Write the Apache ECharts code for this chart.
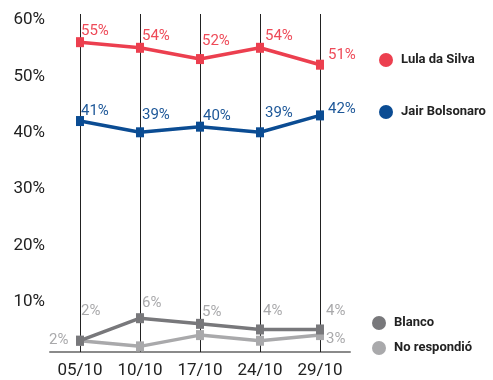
<!DOCTYPE html>
<html>
<head>
<meta charset="utf-8">
<script src="https://cdn.jsdelivr.net/npm/echarts@6/dist/echarts.min.js"></script>
<style>
  html, body { margin: 0; padding: 0; background: #fff; }
  #chart { width: 493px; height: 380px; }
</style>
</head>
<body>
<div id="chart"></div>
<script>
// Poll dates
const dates = ['05/10', '10/10', '17/10', '24/10', '29/10'];

// Voting intention (%) per candidate / answer
const lula = [55, 54, 52, 54, 51];
const bolsonaro = [41, 39, 40, 39, 42];
const blanco = [2, 6, 5, 4, 4];
const noRespondio = [2, 1, 3, 2, 3];

// Y axis ticks
const yTicks = [10, 20, 30, 40, 50, 60];

const RED = '#ec3f4f';
const BLUE = '#0b4c93';
const DARK_GREY = '#78787b';
const LIGHT_GREY = '#a9a9ab';

// Hand-placed label nudges (dx, dy from the marker centre)
const nudges = {
  lula: [[1, -11], [2, -12], [2, -18], [5, -12], [8, -9]],
  bolsonaro: [[1, -10], [2, -17], [3, -10], [5, -19], [8, -6]],
  blanco: [[1, -29], [2, -15], [2, -12], [3, -18], [6, -18]],
  noRespondio: [[-31, 0], null, null, null, [6, 4]]
};

function points(values, key, color) {
  return values.map((v, i) => {
    const n = nudges[key][i];
    if (!n) return { value: v, label: { show: false } };
    return {
      value: v,
      label: {
        show: true,
        position: 'inside',
        align: 'left',
        verticalAlign: 'middle',
        offset: n,
        color: color,
        fontSize: 15,
        fontFamily: 'Roboto',
        formatter: '{c}%'
      }
    };
  });
}

function lineSeries(name, values, key, color, labelColor) {
  return {
    name: name,
    type: 'line',
    data: points(values, key, labelColor),
    symbol: 'rect',
    symbolSize: [8, 10],
    showSymbol: true,
    lineStyle: { color: color, width: 3.5 },
    itemStyle: { color: color },
    emphasis: { disabled: true },
    animation: false,
    z: 3
  };
}

const chart = echarts.init(document.getElementById('chart'), null, { renderer: 'canvas' });

chart.setOption({
  backgroundColor: '#ffffff',
  animation: false,
  grid: { left: 50, right: 143, top: 14, bottom: 28, containLabel: false },
  xAxis: {
    type: 'category',
    data: dates,
    boundaryGap: true,
    axisLine: { show: true, lineStyle: { color: '#8a8a8a', width: 2 } },
    axisTick: {
      show: true,
      alignWithLabel: true,
      inside: true,
      length: 338,
      lineStyle: { color: '#222222', width: 1 }
    },
    axisLabel: {
      color: '#222222',
      fontSize: 17,
      fontFamily: 'Roboto',
      margin: 10
    },
    splitLine: { show: false }
  },
  yAxis: {
    type: 'value',
    min: 0,
    max: yTicks[yTicks.length - 1],
    interval: yTicks[1] - yTicks[0],
    axisLine: { show: false },
    axisTick: { show: false },
    splitLine: { show: false },
    axisLabel: {
      showMinLabel: false,
      color: '#222222',
      fontSize: 17,
      fontFamily: 'Roboto',
      margin: 5,
      verticalAlign: 'top',
      lineHeight: 12,
      formatter: v => (yTicks.indexOf(v) >= 0 ? v + '%' : '')
    }
  },
  legend: [
    {
      data: ['Lula da Silva', 'Jair Bolsonaro'],
      orient: 'vertical',
      left: 374,
      top: 48,
      itemWidth: 14,
      itemHeight: 14,
      itemGap: 38,
      icon: 'circle',
      selectedMode: false,
      textStyle: { color: '#222222', fontSize: 13, fontWeight: 'bold', fontFamily: 'Roboto', padding: [0, 0, 0, 3] }
    },
    {
      data: ['Blanco', 'No respondió'],
      orient: 'vertical',
      left: 367,
      top: 311,
      itemWidth: 14,
      itemHeight: 14,
      itemGap: 11,
      icon: 'circle',
      selectedMode: false,
      textStyle: { color: '#222222', fontSize: 13, fontWeight: 'bold', fontFamily: 'Roboto', padding: [0, 0, 0, 3] }
    }
  ],
  series: [
    lineSeries('No respondió', noRespondio, 'noRespondio', LIGHT_GREY, LIGHT_GREY),
    lineSeries('Blanco', blanco, 'blanco', DARK_GREY, LIGHT_GREY),
    lineSeries('Jair Bolsonaro', bolsonaro, 'bolsonaro', BLUE, '#1d5798'),
    lineSeries('Lula da Silva', lula, 'lula', RED, '#ee4a58')
  ]
});
</script>
</body>
</html>
